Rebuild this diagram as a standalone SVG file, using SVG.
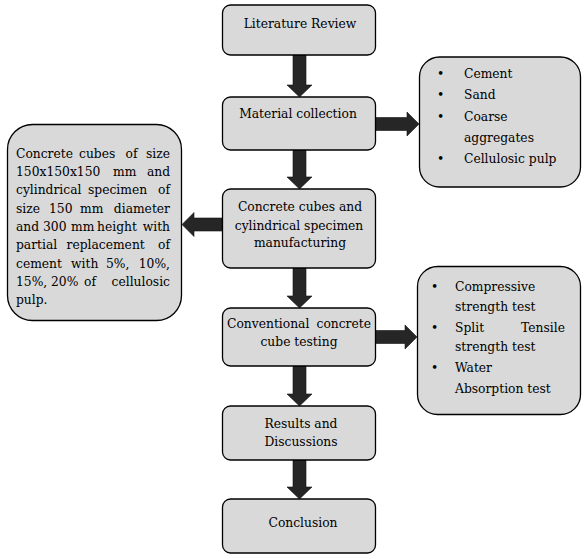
<svg xmlns="http://www.w3.org/2000/svg" width="587" height="559" viewBox="0 0 587 559">
<style>
.box{fill:#d9d9d9;stroke:#000;stroke-width:1.3}
.arr{fill:#262626;stroke:#111;stroke-width:0.6}
text{font-family:"DejaVu Serif","Liberation Serif",serif;font-size:12.3px;fill:#000}
.c{text-anchor:middle}
.e{text-anchor:end}
</style>
<rect width="587" height="559" fill="#fff"/>
<g id="connectors">
<polygon class="arr" points="293,55 306,55 306,85 312,85 299.5,97 287,85 293,85"/>
<polygon class="arr" points="293,150 306,150 306,177 312,177 299.5,189 287,177 293,177"/>
<polygon class="arr" points="293,268 306,268 306,296 312,296 299.5,308 287,296 293,296"/>
<polygon class="arr" points="293,366 306,366 306,394 312,394 299.5,406 287,394 293,394"/>
<polygon class="arr" points="293,460 306,460 306,487 312,487 299.5,499 287,487 293,487"/>
<polygon class="arr" points="375,117.5 407,117.5 407,112 419,124 407,136 407,130.5 375,130.5"/>
<polygon class="arr" points="375,330.5 405,330.5 405,325 417,337 405,349 405,343.5 375,343.5"/>
<polygon class="arr" points="222,218 194,218 194,212.5 182,224.5 194,236.5 194,231 222,231"/>
</g>
<g id="literature-review">
<rect class="box" x="222.5" y="5" width="153" height="50" rx="8"/>
<text class="c" x="300" y="27.5">Literature Review</text>
</g>
<g id="material-collection">
<rect class="box" x="222.5" y="97" width="153" height="53" rx="8"/>
<text class="c" x="298" y="117.5">Material collection</text>
</g>
<g id="materials-list">
<rect class="box" x="419.5" y="57" width="161" height="130" rx="20"/>
<text x="437" y="78">•</text><text x="464" y="78">Cement</text>
<text x="437" y="99">•</text><text x="464" y="99">Sand</text>
<text x="437" y="120.5">•</text><text x="464" y="120.5">Coarse</text>
<text x="464" y="141.5">aggregates</text>
<text x="437" y="162.5">•</text><text x="464" y="162.5">Cellulosic pulp</text>
</g>
<g id="manufacturing">
<rect class="box" x="222.5" y="189" width="153" height="79" rx="8"/>
<text class="c" x="300" y="211">Concrete cubes and</text>
<text class="c" x="299" y="229.5">cylindrical specimen</text>
<text class="c" x="300" y="247">manufacturing</text>
</g>
<g id="specimen-details">
<rect class="box" x="7.5" y="124.5" width="174" height="196" rx="25"/>
<text y="157.5"><tspan x="16">Concrete</tspan> <tspan x="79">cubes</tspan> <tspan x="125.5">of</tspan> <tspan class="e" x="170">size</tspan></text>
<text y="175.5"><tspan x="16">150x150x150</tspan> <tspan x="113">mm</tspan> <tspan class="e" x="170">and</tspan></text>
<text y="194"><tspan x="16">cylindrical</tspan> <tspan x="88">specimen</tspan> <tspan class="e" x="170">of</tspan></text>
<text y="212.5"><tspan x="16">size</tspan> <tspan x="49">150</tspan> <tspan x="80">mm</tspan> <tspan class="e" x="170">diameter</tspan></text>
<text y="231"><tspan x="16">and</tspan> <tspan x="43">300</tspan> <tspan x="71">mm</tspan> <tspan x="97">height</tspan> <tspan class="e" x="170">with</tspan></text>
<text y="249"><tspan x="16">partial</tspan> <tspan x="66.5">replacement</tspan> <tspan class="e" x="170">of</tspan></text>
<text y="267.5"><tspan x="16">cement</tspan> <tspan x="71">with</tspan> <tspan x="106">5%,</tspan> <tspan class="e" x="170">10%,</tspan></text>
<text y="286"><tspan x="16">15%,</tspan> <tspan x="51">20%</tspan> <tspan x="84">of</tspan> <tspan class="e" x="170">cellulosic</tspan></text>
<text x="16" y="304">pulp.</text>
</g>
<g id="cube-testing">
<rect class="box" x="222.5" y="308" width="153" height="58" rx="8"/>
<text y="327.5"><tspan x="227">Conventional</tspan> <tspan class="e" x="371">concrete</tspan></text>
<text class="c" x="299" y="345.5">cube testing</text>
</g>
<g id="tests-list">
<rect class="box" x="417.5" y="266.5" width="163" height="148" rx="20"/>
<text x="431" y="291">•</text><text x="455" y="291">Compressive</text>
<text x="455" y="311">strength test</text>
<text x="431" y="332">•</text><text y="332"><tspan x="455">Split</tspan> <tspan class="e" x="565">Tensile</tspan></text>
<text x="455" y="351">strength test</text>
<text x="431" y="371.5">•</text><text x="455" y="371.5">Water</text>
<text x="455" y="392.5">Absorption test</text>
</g>
<g id="results">
<rect class="box" x="222.5" y="406" width="153" height="54" rx="8"/>
<text class="c" x="301" y="428">Results and</text>
<text class="c" x="301" y="446">Discussions</text>
</g>
<g id="conclusion">
<rect class="box" x="222.5" y="499" width="153" height="54" rx="8"/>
<text class="c" x="303" y="526.5">Conclusion</text>
</g>
</svg>
